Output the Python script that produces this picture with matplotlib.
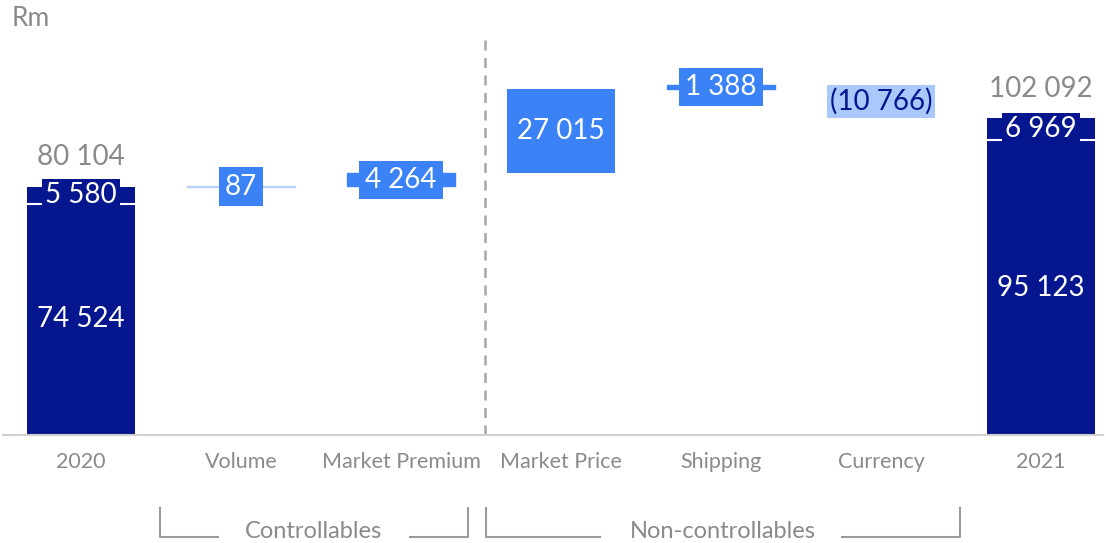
import matplotlib.pyplot as plt

plt.rcParams['font.family'] = ['Lato', 'DejaVu Sans']

# Revenue bridge 2020 -> 2021 (Rm)
categories = ['2020', 'Volume', 'Market Premium', 'Market Price', 'Shipping', 'Currency', '2021']
start_parts = [74524, 5580]
end_parts = [95123, 6969]
changes = [87, 4264, 27015, 1388, -10766]

navy = '#06168f'
blue = '#3a82f5'
light = '#a9c9fa'
grey = '#8a8a8a'
fw = 'normal'


def fmt(v):
    s = f"{abs(v):,}".replace(',', ' ')
    return f"({s})" if v < 0 else s


fig = plt.figure(figsize=(11.06, 5.43), dpi=100)
ax = fig.add_axes([0, 108 / 543, 1, 435 / 543])
ax.set_xlim(-81 / 160, (1106 - 81) / 160)
ax.set_ylim(0, 140300)
ax.axis('off')

w = 0.67
x = list(range(len(categories)))

# opening and closing stacked bars
for xi, parts in ((x[0], start_parts), (x[-1], end_parts)):
    ax.bar(xi, parts[0], w, color=navy, zorder=2)
    ax.bar(xi, parts[1], w, bottom=parts[0], color=navy, zorder=2)
    ax.plot([xi - w / 2, xi + w / 2], [parts[0], parts[0]], color='white', lw=1.5, zorder=3)
    ax.text(xi, parts[0] / 2, fmt(parts[0]), color='white', fontsize=20,
            fontweight=fw, ha='center', va='center', zorder=4)
    ax.text(xi, parts[0] + parts[1] / 2, fmt(parts[1]), color='white', fontsize=20,
            fontweight=fw, ha='center', va='center', zorder=4,
            bbox=dict(boxstyle='square,pad=0.12', fc=navy, ec='none'))
    ax.annotate(fmt(sum(parts)), (xi, sum(parts)), xytext=(0, 12), textcoords='offset points',
                color=grey, fontsize=20, fontweight=fw, ha='center', va='bottom')

# floating change bars
level = sum(start_parts)
for i, c in enumerate(changes):
    xi = x[i + 1]
    bottom = level if c > 0 else level + c
    if c < 0:
        ax.bar(xi, -c, w, bottom=bottom, color=light, zorder=2)
        ax.text(xi, bottom - c / 2, fmt(c), color=navy, fontsize=20, fontweight=fw,
                ha='center', va='center', zorder=4)
    elif c > 10000:
        ax.bar(xi, c, w, bottom=bottom, color=blue, zorder=2)
        ax.text(xi, bottom + c / 2, fmt(c), color='white', fontsize=20, fontweight=fw,
                ha='center', va='center', zorder=4)
    else:
        ec = '#bcd2f7' if c < 500 else blue
        ax.bar(xi, c, w, bottom=bottom, color=blue, edgecolor=ec, lw=1, zorder=2)
        ax.text(xi, bottom + c / 2, fmt(c), color='white', fontsize=20, fontweight=fw,
                ha='center', va='center', zorder=4,
                bbox=dict(boxstyle='square,pad=0.22', fc=blue, ec='none'))
    level += c

# baseline and divider
ax.plot([-78 / 160, 1022 / 160], [0, 0], color='#cfcfcf', lw=1.5, zorder=5, clip_on=False)
ax.plot([2.525, 2.525], [0, 128000], color='#a6a6a6', lw=1.8, ls=(0, (4, 3)), zorder=1)

ax.text(12 / 1106, 1 - 18 / 435, 'Rm', transform=ax.transAxes, color=grey, fontsize=19,
        fontweight=fw, ha='left', va='center')

# category labels and group brackets
bx = fig.add_axes([0, 0, 1, 108 / 543])
bx.set_xlim(ax.get_xlim())
bx.set_ylim(0, 108)
bx.axis('off')
for xi, name in zip(x, categories):
    bx.text(xi, 108 - 27, name, color=grey, fontsize=15.5, fontweight=fw, ha='center', va='center')

groups = [('Controllables', 0.494, 2.419, 0.856, 2.056, 1.456),
          ('Non-controllables', 2.531, 5.494, 3.244, 4.756, 4.01)]
for name, left, right, gap_l, gap_r, mid in groups:
    bx.plot([left, left, gap_l], [35, 6, 6], color='#9a9a9a', lw=1.5)
    bx.plot([gap_r, right, right], [6, 6, 35], color='#9a9a9a', lw=1.5)
    bx.text(mid, 12, name, color=grey, fontsize=17, fontweight=fw, ha='center', va='center')

fig.savefig('out.png', dpi=100)
